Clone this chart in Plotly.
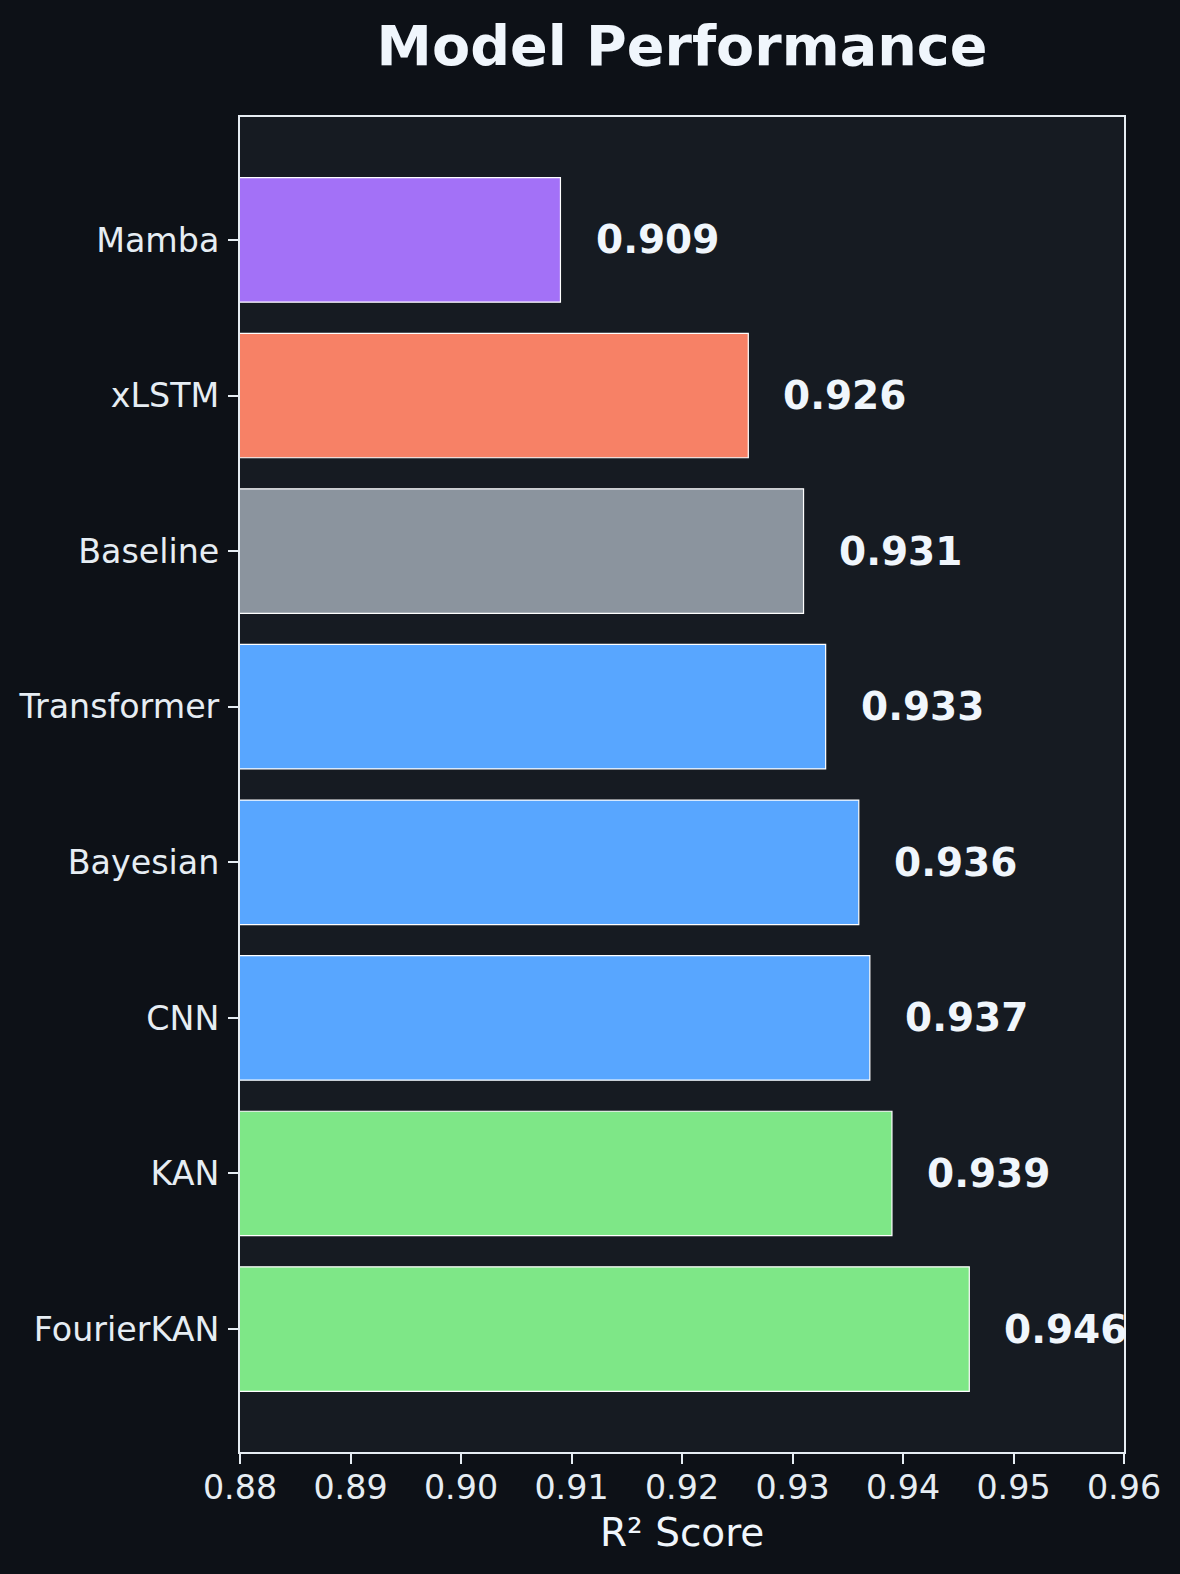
import plotly.graph_objects as go

models = ["FourierKAN", "KAN", "CNN", "Bayesian", "Transformer", "Baseline", "xLSTM", "Mamba"]
r2_scores = [0.946, 0.939, 0.937, 0.936, 0.933, 0.931, 0.926, 0.909]
bar_colors = ["#7ee787", "#7ee787", "#58a6ff", "#58a6ff", "#58a6ff", "#8b949e", "#f78166", "#a371f7"]
x_ticks = [0.88, 0.89, 0.90, 0.91, 0.92, 0.93, 0.94, 0.95, 0.96]
x_tick_labels = ["0.88", "0.89", "0.90", "0.91", "0.92", "0.93", "0.94", "0.95", "0.96"]

FONT = "DejaVu Sans"
TEXT = "#f0f6fc"
AXIS = "#e6edf3"

positions = list(range(len(models)))

fig = go.Figure()
fig.add_trace(go.Bar(
    y=positions,
    x=r2_scores,
    orientation="h",
    width=0.8,
    marker=dict(color=bar_colors, line=dict(color="#ffffff", width=1.2)),
    hoverinfo="x+text",
    hovertext=models,
    showlegend=False,
))

annotations = []
for pos, val in zip(positions, r2_scores):
    annotations.append(dict(
        x=val + 0.003, y=pos, xref="x", yref="y",
        text=f"<b>{val:.3f}</b>", showarrow=False,
        xanchor="left", yanchor="middle",
        font=dict(family=FONT, size=39, color=TEXT),
    ))

annotations.append(dict(
    x=0.5, y=-0.06, xref="paper", yref="paper",
    text="R² Score", showarrow=False,
    xanchor="center", yanchor="middle",
    font=dict(family=FONT, size=39, color=TEXT),
))

fig.update_layout(
    width=1180, height=1574,
    paper_bgcolor="#0d1117",
    plot_bgcolor="#161b22",
    margin=dict(l=240, r=56, t=117, b=122),
    title=dict(
        text="<b>Model Performance</b>",
        x=0.5, xref="paper", xanchor="center",
        y=1 - 46 / 1574, yref="container", yanchor="middle",
        font=dict(family=FONT, size=55.6, color=TEXT),
    ),
    annotations=annotations,
    bargap=0.2,
)

fig.update_xaxes(
    range=[0.88, 0.96],
    tickvals=x_ticks, ticktext=x_tick_labels,
    showgrid=False, zeroline=False,
    showline=True, mirror=True, linecolor=AXIS, linewidth=2,
    ticks="outside", ticklen=10, tickwidth=2, tickcolor=AXIS,
    ticklabelstandoff=-5,
    tickfont=dict(family=FONT, size=33.3, color=AXIS),
)
fig.update_yaxes(
    range=[-0.79, 7.79],
    tickvals=positions, ticktext=models,
    showgrid=False, zeroline=False,
    showline=True, mirror=True, linecolor=AXIS, linewidth=2,
    ticks="outside", ticklen=10, tickwidth=2, tickcolor=AXIS,
    ticklabelstandoff=2,
    tickfont=dict(family=FONT, size=33.3, color=AXIS),
)

fig.write_html(
    "out.html",
    config={"displayModeBar": False},
    post_script="document.body.style.margin='0';document.body.style.padding='0';",
)
